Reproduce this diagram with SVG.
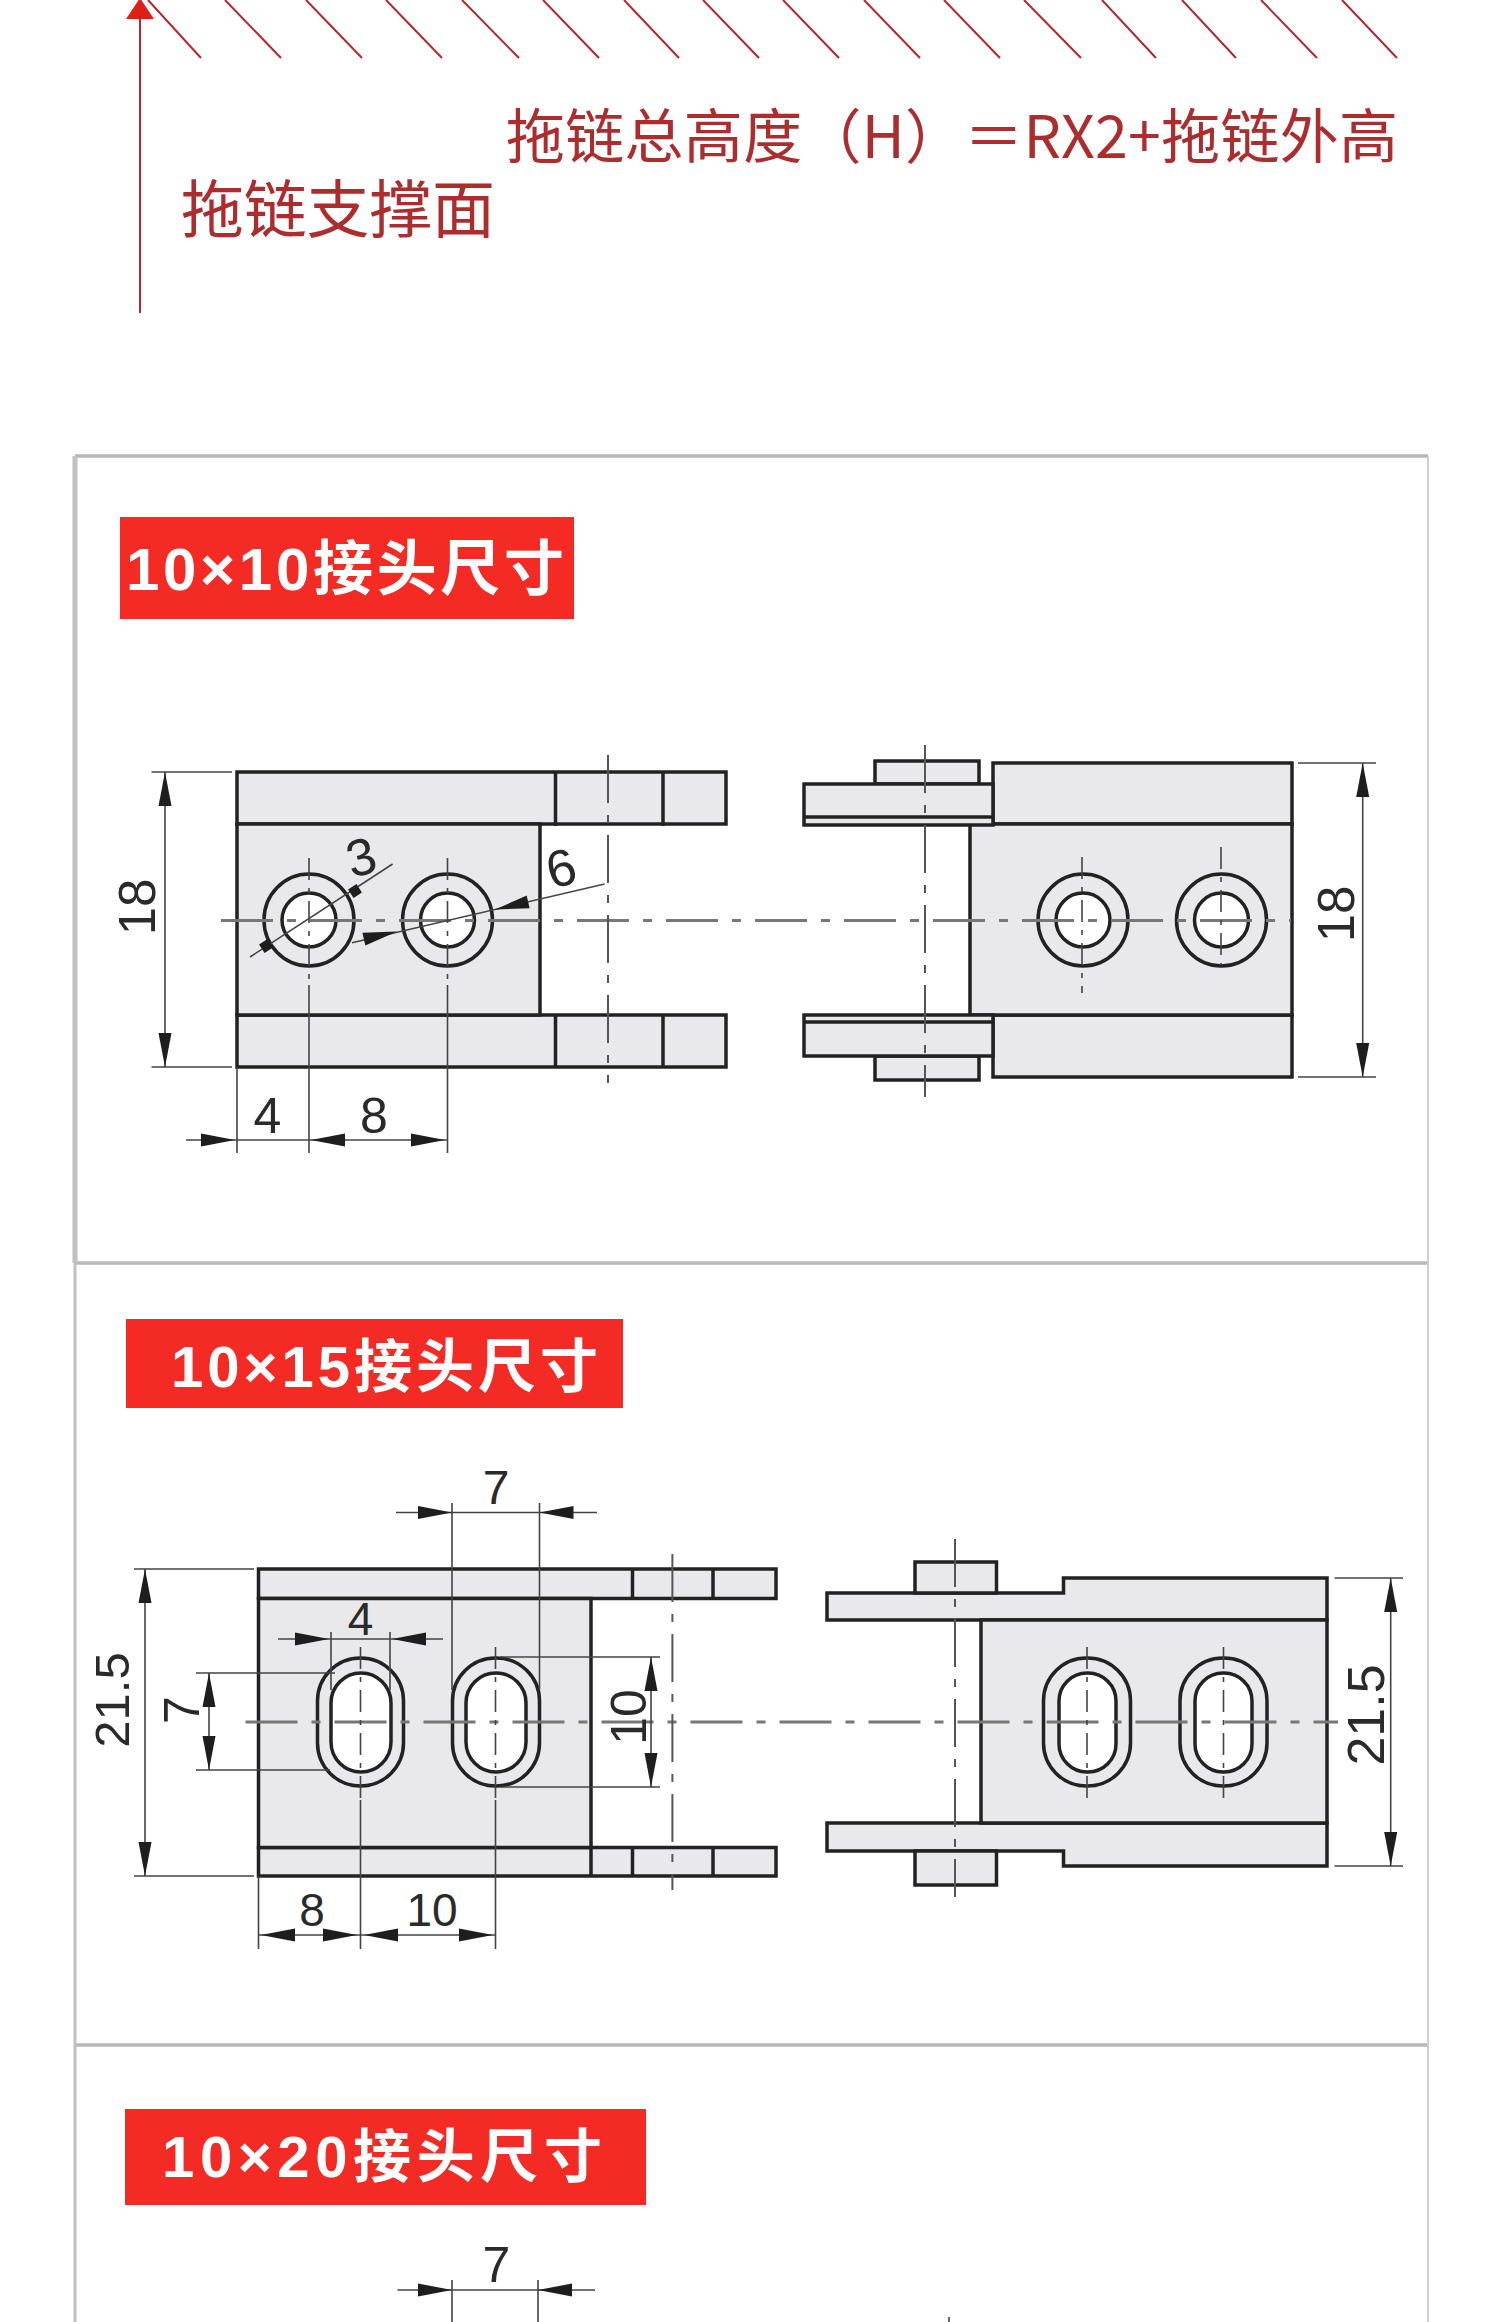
<svg xmlns="http://www.w3.org/2000/svg" xmlns:xlink="http://www.w3.org/1999/xlink" width="1500" height="2322" viewBox="0 0 1500 2322">
<style>
.red{stroke:#b5272b;stroke-width:2;fill:none}
.rt{fill:#ad2c2e;font-family:"Noto Sans CJK SC","Liberation Sans",sans-serif}
.p{fill:#e9e9eb;stroke:#222;stroke-width:3.5;stroke-linejoin:miter}
.o{fill:none;stroke:#222;stroke-width:3.5}
.h{fill:#fff;stroke:#222;stroke-width:3.5}
.d{stroke:#444;stroke-width:1.6;fill:none}
.f{stroke:#444;stroke-width:1.6;fill:none;stroke-dasharray:22 8 5 8}
.c{stroke:#555;stroke-width:2;fill:none;stroke-dasharray:48 12 8 12}
.c2{stroke:#777;stroke-width:3;fill:none;stroke-dasharray:52 14 9 14}
.t{font-family:"Liberation Sans",Arial,sans-serif;fill:#2a2a2a;text-anchor:middle}
.b{stroke:#b8b8b8;stroke-width:3.5;fill:none}
.tt{fill:#f42a24}
.tl{fill:#fff;font-family:"Liberation Sans","Noto Sans CJK SC",sans-serif;font-weight:700}
</style>
<defs>
<polygon id="a" points="0,0 -34,-6.5 -34,6.5" fill="#1e1e1e"/>
</defs>
<rect width="1500" height="2322" fill="#fff"/>

<g id="support-surface">
<g class="red">
<path d="M148 0L201 58M225 0L281 58M306 0L362 58M386 0L442 58M462 0L519 58M543 0L599 58M624 0L679 58M703 0L759 58M783 0L839 58M864 0L920 58M944 0L1000 58M1024 0L1081 58M1102 0L1156 58M1182 0L1236 58M1261 0L1317 58M1342 0L1397 58"/>
<line x1="140" y1="18" x2="140" y2="313"/>
</g>
<polygon points="140,-2 126,19 154,19" fill="#df1f14"/>
<text class="rt" x="506" y="158" font-size="59" textLength="892" lengthAdjust="spacing">拖链总高度（H）＝RX2+拖链外高</text>
<text class="rt" x="181" y="232" font-size="63" textLength="314" lengthAdjust="spacing">拖链支撑面</text>
</g>

<g id="panels">
<path class="b" d="M75 456H1428M75 1263H1428M74 2045H1428"/>
<path d="M75 456V1263" stroke="#c0c0c0" stroke-width="5" fill="none"/>
<path d="M75 1263V2322" stroke="#c0c0c0" stroke-width="3" fill="none"/>
<path d="M1428 456V2322" stroke="#cfcfcf" stroke-width="2" fill="none"/>
</g>

<g id="title-10x10">
<rect class="tt" x="120" y="517" width="454" height="102"/>
<text class="tl" x="126" y="590" font-size="60" textLength="438" lengthAdjust="spacing">10×10接头尺寸</text>
</g>
<g id="title-10x15">
<rect class="tt" x="126" y="1319" width="497" height="89"/>
<text class="tl" x="171" y="1387" font-size="58" textLength="427" lengthAdjust="spacing">10×15接头尺寸</text>
</g>
<g id="title-10x20">
<rect class="tt" x="125" y="2109" width="521" height="96"/>
<text class="tl" x="162" y="2177" font-size="58" textLength="440" lengthAdjust="spacing">10×20接头尺寸</text>
</g>

<g id="part-10x10-left">
<rect class="p" x="237" y="772" width="489" height="52"/>
<rect class="p" x="237" y="1015" width="489" height="52"/>
<rect class="p" x="237" y="824" width="303" height="191"/>
<path class="o" d="M555.5 772V826M663 772V826M555.5 1015V1067M663 1015V1067"/>
<ellipse class="p" cx="309" cy="920" rx="45" ry="46"/>
<ellipse class="h" cx="309" cy="920" rx="27" ry="27"/>
<ellipse class="p" cx="447.5" cy="920" rx="45" ry="46"/>
<ellipse class="h" cx="447.5" cy="920" rx="27" ry="27"/>
</g>
<g id="part-10x10-right">
<rect class="p" x="993" y="763" width="299" height="61"/>
<rect class="p" x="993" y="1015" width="299" height="62"/>
<rect class="p" x="970" y="824" width="322" height="191"/>
<rect class="p" x="875" y="761" width="104" height="23"/>
<rect class="p" x="875" y="1056" width="104" height="24"/>
<path class="p" d="M804 784H993V825H804Z"/>
<path class="o" d="M804 817H993"/>
<path class="p" d="M804 1015H993V1056H804Z"/>
<path class="o" d="M804 1022H993"/>
<ellipse class="p" cx="1083" cy="920" rx="45" ry="46"/>
<ellipse class="h" cx="1083" cy="920" rx="27" ry="27"/>
<ellipse class="p" cx="1221.5" cy="920" rx="45" ry="46"/>
<ellipse class="h" cx="1221.5" cy="920" rx="27" ry="27"/>
</g>

<g id="part-10x15-left">
<rect class="p" x="258.5" y="1569" width="517.5" height="29.5"/>
<rect class="p" x="258.5" y="1847.5" width="517.5" height="28.5"/>
<rect class="p" x="258.5" y="1598.5" width="332.5" height="249"/>
<path class="o" d="M632.5 1569V1598M713 1569V1598M591 1847.5V1876M632.5 1847.5V1876M713 1847.5V1876"/>
<rect class="p" x="317.5" y="1658" width="86" height="128" rx="43" ry="43"/>
<rect class="h" x="331" y="1673" width="60" height="99" rx="30" ry="30"/>
<rect class="p" x="452.5" y="1658" width="87" height="128" rx="43" ry="43"/>
<rect class="h" x="466" y="1673" width="60" height="99" rx="30" ry="30"/>
</g>
<g id="part-10x15-right">
<path class="p" d="M827 1593H1063.5V1578H1327V1620H827Z"/>
<path class="p" d="M827 1823H1327V1866H1063.5V1851H827Z"/>
<rect class="p" x="981" y="1620" width="346" height="203"/>
<rect class="p" x="915" y="1562" width="81.5" height="31"/>
<rect class="p" x="915" y="1851" width="81.5" height="34"/>
<rect class="p" x="1043.5" y="1658" width="87" height="128" rx="43" ry="43"/>
<rect class="h" x="1059" y="1673" width="57" height="99" rx="28" ry="28"/>
<rect class="p" x="1180" y="1658" width="87" height="128" rx="43" ry="43"/>
<rect class="h" x="1195" y="1673" width="57" height="99" rx="28" ry="28"/>
</g>

<g id="connectors">
<!-- 10x10 centre lines -->
<path class="c2" d="M221 920.500H1291"/>
<path class="c" d="M608 755V1083M925 745V1097"/>
<path class="f" d="M309 858V985M447.500 858V985M1082 857V993M1221 847V965"/>
<path class="d" d="M309 985V1153M447.500 985V1153"/>
<!-- 10x10 dimensions -->
<path class="d" d="M151.500 772H232M151.500 1067H232M165 772V1067M237 1067V1153M186 1140H447.500"/>
<use xlink:href="#a" href="#a" transform="translate(165 772) rotate(-90)"/>
<use xlink:href="#a" href="#a" transform="translate(165 1067) rotate(90)"/>
<use xlink:href="#a" href="#a" transform="translate(235 1140)"/>
<use xlink:href="#a" href="#a" transform="translate(311 1140) rotate(180)"/>
<use xlink:href="#a" href="#a" transform="translate(445 1140)"/>
<path class="d" d="M250 957L392.600 864M604.600 884L352 942.700"/>
<rect x="350" y="886" width="10" height="10" fill="#1e1e1e" transform="rotate(-33 355 891)"/>
<rect x="261" y="941" width="10" height="10" fill="#1e1e1e" transform="rotate(-33 266 946)"/>
<use xlink:href="#a" href="#a" transform="translate(495 909.500) rotate(167)"/>
<use xlink:href="#a" href="#a" transform="translate(397 931.500) rotate(-13)"/>
<path class="d" d="M1298 763H1376M1298 1077H1376M1362.700 763V1077"/>
<use xlink:href="#a" href="#a" transform="translate(1362.700 763) rotate(-90)"/>
<use xlink:href="#a" href="#a" transform="translate(1362.700 1077) rotate(90)"/>

<!-- 10x15 centre lines -->
<path class="c2" d="M245.500 1722H1338"/>
<path class="c" d="M672.400 1554V1890M955 1539V1897"/>
<path class="f" d="M360.500 1647V1800M495.500 1647V1800M1087 1647V1800M1223.500 1647V1800"/>
<path class="d" d="M360.500 1800V1949M495.500 1800V1949"/>
<!-- 10x15 dimensions -->
<path class="d" d="M134 1569H254M134 1876H254M145 1569V1876M258.500 1876V1949M258.500 1935H495.500"/>
<use xlink:href="#a" href="#a" transform="translate(145 1569) rotate(-90)"/>
<use xlink:href="#a" href="#a" transform="translate(145 1876) rotate(90)"/>
<use xlink:href="#a" href="#a" transform="translate(261 1935) rotate(180)"/>
<use xlink:href="#a" href="#a" transform="translate(357 1935)"/>
<use xlink:href="#a" href="#a" transform="translate(364 1935) rotate(180)"/>
<use xlink:href="#a" href="#a" transform="translate(493 1935)"/>
<path class="d" d="M196 1673H335M196 1770H330M209 1673V1770"/>
<use xlink:href="#a" href="#a" transform="translate(209 1673) rotate(-90)"/>
<use xlink:href="#a" href="#a" transform="translate(209 1770) rotate(90)"/>
<path class="d" d="M278 1639H443M331 1632V1690M390 1632V1690"/>
<use xlink:href="#a" href="#a" transform="translate(329 1639)"/>
<use xlink:href="#a" href="#a" transform="translate(392 1639) rotate(180)"/>
<path class="d" d="M396 1512.500H597M452 1503V1690M539.500 1503V1690"/>
<use xlink:href="#a" href="#a" transform="translate(452 1512.500)"/>
<use xlink:href="#a" href="#a" transform="translate(539.500 1512.500) rotate(180)"/>
<path class="d" d="M500 1657H660M500 1787H660M651 1657V1787"/>
<use xlink:href="#a" href="#a" transform="translate(651 1657) rotate(-90)"/>
<use xlink:href="#a" href="#a" transform="translate(651 1787) rotate(90)"/>
<path class="d" d="M1334.500 1578H1403M1334.500 1866H1403M1390.700 1578V1866"/>
<use xlink:href="#a" href="#a" transform="translate(1390.700 1578) rotate(-90)"/>
<use xlink:href="#a" href="#a" transform="translate(1390.700 1866) rotate(90)"/>

<!-- 10x20 dimensions -->
<path class="d" d="M397.500 2290H595M452 2280V2322M538 2280V2322M949 2317V2322"/>
<use xlink:href="#a" href="#a" transform="translate(452 2290)"/>
<use xlink:href="#a" href="#a" transform="translate(538 2290) rotate(180)"/>
</g>

<g id="dimension-labels">
<text class="t" x="267.500" y="1133" font-size="50">4</text>
<text class="t" x="374" y="1133" font-size="50">8</text>
<text class="t" transform="translate(155 907) rotate(-90)" font-size="51">18</text>
<text class="t" transform="translate(361 857) rotate(-15) translate(0 18)" font-size="52">3</text>
<text class="t" transform="translate(561 868) rotate(-15) translate(0 18)" font-size="52">6</text>
<text class="t" transform="translate(1354 914) rotate(-90)" font-size="51">18</text>
<text class="t" x="496" y="1504" font-size="48">7</text>
<text class="t" x="360.500" y="1635" font-size="46">4</text>
<text class="t" x="312" y="1926" font-size="46">8</text>
<text class="t" x="432" y="1926" font-size="46">10</text>
<text class="t" transform="translate(129 1700) rotate(-90)" font-size="49">21.5</text>
<text class="t" transform="translate(199 1710) rotate(-90)" font-size="50">7</text>
<text class="t" transform="translate(646 1717) rotate(-90)" font-size="50">10</text>
<text class="t" transform="translate(1384 1715) rotate(-90)" font-size="52">21.5</text>
<text class="t" x="496.500" y="2282" font-size="50">7</text>
</g>
</svg>
